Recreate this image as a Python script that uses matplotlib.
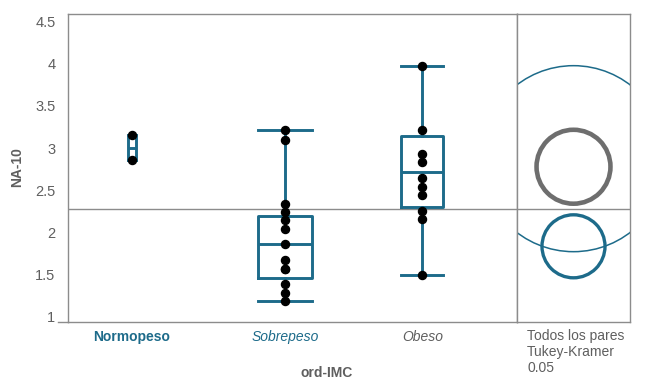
import matplotlib
matplotlib.use("Agg")
import matplotlib.pyplot as plt
from matplotlib.patches import Circle
from matplotlib.lines import Line2D

# ------------------ DATA ------------------
groups = ["Normopeso", "Sobrepeso", "Obeso"]
counts = [2, 13, 10]
positions = [0.142, 0.483, 0.789]   # JMP spacing of the groups

normopeso_pts = [3.155, 2.854]
sobrepeso_pts = [3.21, 3.10, 2.33, 2.24, 2.14, 2.04, 1.86, 1.67, 1.56, 1.56, 1.38, 1.28, 1.18]
obeso_pts = [3.98, 3.21, 2.93, 2.83, 2.64, 2.54, 2.44, 2.25, 2.16, 1.49]

# box statistics as drawn (JMP quantiles)
whis_lo = [2.854, 1.182, 1.485]
q1 = [2.854, 1.456, 2.298]
med = [3.004, 1.857, 2.718]
q3 = [3.155, 2.194, 3.143]
whis_hi = [3.155, 3.218, 3.980]

grand_mean = 2.27

# comparison circles: centre, radius (NA-10 units)
circle_centres = [2.873, 2.777, 1.830]
circle_radii = [1.107, 0.440, 0.375]

y_ticks = [1, 1.5, 2, 2.5, 3, 3.5, 4, 4.5]
y_ticklabels = ["1", "1.5", "2", "2.5", "3", "3.5", "4", "4.5"]
# ------------------------------------------------------------------

TEAL = "#1d6b8a"
GREY = "#6e6e6e"
FRAME = "#8c8c8c"
TXT = "#5f5f5f"

plt.rcParams["font.family"] = ["Liberation Sans", "DejaVu Sans"]

fig = plt.figure(figsize=(6.45, 3.86), dpi=100)
W, H = 645, 386
ax = fig.add_axes([68 / W, 1 - 322 / H, (517 - 68) / W, (322 - 14) / H])
ax2 = fig.add_axes([517 / W, 1 - 322 / H, (630 - 517) / W, (322 - 14) / H], sharey=ax)

ylim = (0.929, 4.595)
ax.set_ylim(*ylim)
ax.set_xlim(0, 1)

# boxes, widths proportional to group size
stats = []
for i in range(len(groups)):
    stats.append(dict(whislo=whis_lo[i], q1=q1[i], med=med[i], q3=q3[i],
                      whishi=whis_hi[i], fliers=[]))
widths = [n * 0.0093 for n in counts]
ax.bxp(stats, positions=positions, widths=widths, capwidths=widths,
       showfliers=False,
       boxprops=dict(color=TEAL, linewidth=2.1),
       whiskerprops=dict(color=TEAL, linewidth=2.1),
       capprops=dict(color=TEAL, linewidth=2.1),
       medianprops=dict(color=TEAL, linewidth=2.1))

for pos, pts in zip(positions, [normopeso_pts, sobrepeso_pts, obeso_pts]):
    ax.plot([pos] * len(pts), pts, "o", color="black", markersize=5.8, zorder=5)

ax.axhline(grand_mean, color=FRAME, linewidth=1.0, zorder=0)

ax.set_yticks(y_ticks)
ax.set_yticklabels(y_ticklabels)
ax.set_xticks(positions)
ax.set_xticklabels(groups)
ax.tick_params(axis="both", length=0, labelsize=10, colors=TXT, pad=8)
ax.tick_params(axis="y", labelsize=10.5, pad=9)
ax.tick_params(axis="x", pad=6)
xl = ax.get_xticklabels()
xl[0].set_color(TEAL); xl[0].set_fontweight("bold")
xl[1].set_color(TEAL); xl[1].set_fontstyle("italic")
xl[2].set_color(TXT); xl[2].set_fontstyle("italic")

for a in (ax, ax2):
    for s in a.spines.values():
        s.set_color(FRAME)
        s.set_linewidth(1.0)

# right panel: comparison circles
span = (630 - 517) / ((322 - 14) / (ylim[1] - ylim[0]))
ax2.set_xlim(0, span)
ax2.axhline(grand_mean, color=FRAME, linewidth=1.0, zorder=0)
ax2.add_patch(Circle((span / 2, circle_centres[0]), circle_radii[0], fill=False,
                     edgecolor=TEAL, linewidth=1.1))
ax2.add_patch(Circle((span / 2, circle_centres[1]), circle_radii[1], fill=False,
                     edgecolor=GREY, linewidth=3.3))
ax2.add_patch(Circle((span / 2, circle_centres[2]), circle_radii[2], fill=False,
                     edgecolor=TEAL, linewidth=2.4))
ax2.set_xticks([])
ax2.tick_params(axis="y", left=False, labelleft=False)

fig.text(527 / W, 1 - 329 / H, "Todos los pares\nTukey-Kramer\n0.05", ha="left", va="top",
         fontsize=10, color=TXT, linespacing=1.2)
fig.text(327 / W, 1 - 373 / H, "ord-IMC", ha="center", va="center", fontsize=10,
         fontweight="bold", color=TXT)
fig.text(17 / W, 1 - 167 / H, "NA-10", ha="center", va="center", rotation=90, fontsize=10,
         fontweight="bold", color=TXT)

# short stub of the x axis line to the left of the frame
fig.add_artist(Line2D([58 / W, 68 / W], [1 - 322 / H, 1 - 322 / H], color=FRAME, linewidth=1.0))

fig.savefig("out.png", dpi=100)
